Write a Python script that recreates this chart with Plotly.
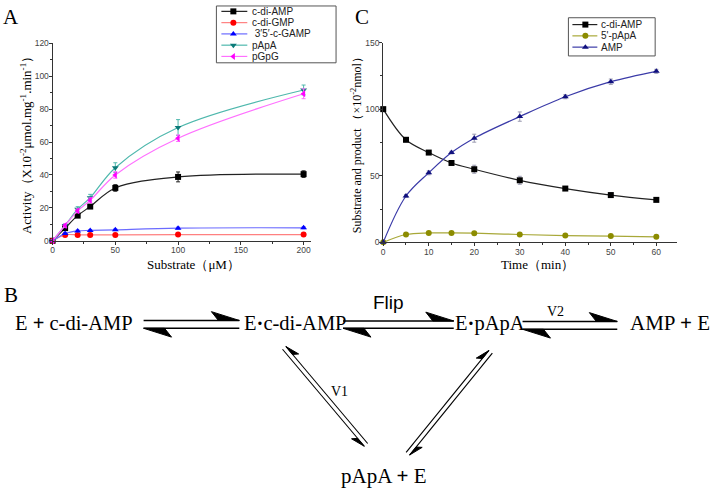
import math
import plotly.graph_objects as go

W, H = 713, 492

# ---------------- Panel A data ----------------
sub_x = [0, 10, 20, 30, 50, 100, 200]
act_names = ["c-di-AMP", "c-di-GMP", " 3\u20325\u2032-c-GAMP", "pApA", "pGpG"]
act_cdiamp = [0, 7.7, 15.3, 20.8, 32.1, 38.8, 40.5]
act_cdigmp = [0, 3.6, 3.6, 3.6, 3.6, 3.8, 3.8]
act_cgamp = [0, 4.4, 6.0, 6.3, 6.7, 7.7, 7.9]
act_papa = [0, 9.3, 19.2, 26.2, 44.4, 68.8, 91.6]
act_pgpg = [0, 9.3, 18.2, 24.6, 40.0, 62.3, 89.3]
err_cdiamp = [0, 1.0, 1.0, 1.2, 2.0, 3.0, 2.0]
err_cdigmp = [0, 0.4, 0.4, 0.4, 0.4, 0.4, 0.4]
err_cgamp = [0, 0.5, 0.5, 0.5, 0.5, 0.6, 0.6]
err_papa = [0, 1.0, 1.5, 2.0, 3.0, 4.8, 3.0]
err_pgpg = [0, 1.0, 1.2, 1.5, 2.0, 2.0, 3.0]

# ---------------- Panel C data ----------------
time_x = [0, 5, 10, 15, 20, 30, 40, 50, 60]
c_names = ["c-di-AMP", "5'-pApA", "AMP"]
c_cdiamp = [100, 77.0, 67.4, 59.6, 54.9, 46.6, 40.4, 35.5, 31.9]
c_papa = [0, 5.9, 7.1, 7.1, 6.9, 5.9, 5.1, 4.7, 4.2]
c_amp = [0, 34.8, 52.2, 67.4, 78.2, 94.4, 109.3, 120.6, 128.4]
err_c_cdiamp = [0, 1.5, 1.0, 1.0, 3.0, 3.0, 1.0, 1.5, 1.0]
err_c_papa = [0, 0.5, 0.5, 0.5, 0.5, 0.5, 0.5, 0.5, 0.5]
err_c_amp = [0, 1.0, 1.5, 1.0, 3.0, 3.5, 1.5, 2.0, 1.5]

# styles
A_styles = [
    dict(mc="#000000", lc="#222222", sym="square"),
    dict(mc="#ff0000", lc="#ff8080", sym="circle"),
    dict(mc="#0000ff", lc="#6b6bff", sym="triangle-up"),
    dict(mc="#0b7a78", lc="#4fb8ad", sym="triangle-down"),
    dict(mc="#ff00ff", lc="#ff70ff", sym="triangle-left"),
]
C_styles = [
    dict(mc="#000000", lc="#222222", sym="square"),
    dict(mc="#8c8c00", lc="#a8a838", sym="circle"),
    dict(mc="#10107e", lc="#3b3ba8", sym="triangle-up"),
]

fig = go.Figure()

A_series = [act_cdiamp, act_cdigmp, act_cgamp, act_papa, act_pgpg]
A_errs = [err_cdiamp, err_cdigmp, err_cgamp, err_papa, err_pgpg]
for name, ys, es, st in zip(act_names, A_series, A_errs, A_styles):
    fig.add_trace(go.Scatter(
        x=sub_x, y=ys, name=name, mode="lines+markers",
        line=dict(color=st["lc"], width=1.2, shape="spline", smoothing=1.0),
        marker=dict(color=st["mc"], symbol=st["sym"], size=6),
        error_y=dict(type="data", array=es, color=st["lc"], thickness=1, width=2),
        cliponaxis=False, showlegend=False, xaxis="x", yaxis="y"))

C_series = [c_cdiamp, c_papa, c_amp]
C_errs = [err_c_cdiamp, err_c_papa, err_c_amp]
for name, ys, es, st in zip(c_names, C_series, C_errs, C_styles):
    fig.add_trace(go.Scatter(
        x=time_x, y=ys, name=name, mode="lines+markers",
        line=dict(color=st["lc"], width=1.2, shape="spline", smoothing=1.0),
        marker=dict(color=st["mc"], symbol=st["sym"], size=6),
        error_y=dict(type="data", array=es, color="#9a9ab0", thickness=1, width=2),
        cliponaxis=False, showlegend=False, xaxis="x2", yaxis="y2"))

def px(x):
    return x / W

def py(y):
    return 1 - y / H

axis_common = dict(showline=True, linecolor="#333333", linewidth=1, ticks="outside",
                   ticklen=3, tickwidth=1, tickcolor="#333333", showgrid=False,
                   zeroline=False, ticklabelstandoff=-2,
                   tickfont=dict(family="Arial, Liberation Sans", size=8.5, color="#444444"))

fig.update_layout(
    width=W, height=H, margin=dict(l=0, r=0, t=0, b=0),
    paper_bgcolor="white", plot_bgcolor="rgba(0,0,0,0)",
    showlegend=False,
    xaxis=dict(domain=[px(50.7), px(310)], range=[0, 206], dtick=50, anchor="y",
               minor=dict(ticks="outside", ticklen=2, dtick=25, tickcolor="#333333"), **axis_common),
    yaxis=dict(domain=[py(240.7), py(39)], range=[0, 120], dtick=20, anchor="x",
               minor=dict(ticks="outside", ticklen=2, dtick=10, tickcolor="#333333"), **axis_common),
    xaxis2=dict(domain=[px(382.3), px(676.7)], range=[0, 64.5], dtick=10, anchor="y2",
                minor=dict(ticks="outside", ticklen=2, dtick=5, tickcolor="#333333"), **axis_common),
    yaxis2=dict(domain=[py(242.3), py(38.3)], range=[0, 150], dtick=50, anchor="x2",
                minor=dict(ticks="outside", ticklen=2, dtick=25, tickcolor="#333333"), **axis_common),
    xaxis3=dict(domain=[0, 1], range=[0, W], visible=False, anchor="y3", fixedrange=True),
    yaxis3=dict(domain=[0, 1], range=[H, 0], visible=False, anchor="x3", fixedrange=True),
)

shapes = []
annots = []

def text(x, y, s, size, family="Liberation Serif, Times New Roman, serif", xanchor="center",
         angle=0, color="#000000"):
    annots.append(dict(x=x, y=y, xref="x3", yref="y3", text=s, showarrow=False,
                       xanchor=xanchor, yanchor="middle", textangle=angle,
                       font=dict(family=family, size=size, color=color)))

# ---- Legends (drawn manually) ----
def legend(box, rows, names, styles, line_x, mark_x, text_x):
    x0, y0, x1, y1 = box
    shapes.append(dict(type="rect", xref="x3", yref="y3", x0=x0, y0=y0, x1=x1, y1=y1,
                       line=dict(color="#555555", width=1), fillcolor="rgba(0,0,0,0)", layer="below"))
    for ry, name, st in zip(rows, names, styles):
        fig.add_trace(go.Scatter(x=[line_x[0], line_x[1]], y=[ry, ry], mode="lines",
                                 line=dict(color=st["lc"], width=1.2), showlegend=False,
                                 hoverinfo="skip", xaxis="x3", yaxis="y3"))
        fig.add_trace(go.Scatter(x=[mark_x], y=[ry], mode="markers",
                                 marker=dict(color=st["mc"], symbol=st["sym"], size=6),
                                 showlegend=False, hoverinfo="skip", xaxis="x3", yaxis="y3"))
        text(text_x, ry, name, 10, family="Arial, Liberation Sans", xanchor="left", color="#222222")

legend((215, 1, 335, 59), [6.5, 18, 29.5, 41, 52.5], act_names, A_styles, (220, 246), 232, 249)
legend((568, 13, 655, 52), [20, 31.5, 43], c_names, C_styles, (572, 597), 585, 599)

# ---- Panel labels and axis titles ----
text(9, 12, "A", 21)
text(361, 12, "C", 21)
text(9, 296, "B", 21)
text(24, 140, "Activity\uff08X10<sup>-2</sup>\u03bcmol.mg<sup>-1</sup>.min<sup>-1</sup>\uff09", 13, angle=-90)
text(192, 265, "Substrate\uff08\u03bcM\uff09", 13)
text(355, 140, "Substrate and product \uff08\u00d710<sup>-2</sup>nmol\uff09", 12, angle=-90)
text(537, 265, "Time\uff08min\uff09", 13)

# ---- Scheme B ----
plus = "<b>+</b>"
dot = "<b>\u00b7</b>"
text(72, 325, "E " + plus + " c-di-AMP", 20.5)
text(294, 325, "E" + dot + "c-di-AMP", 20.5)
text(489, 325, "E" + dot + "pApA", 20.5)
text(670, 325, "AMP " + plus + " E", 21)
text(383, 481, "pApA " + plus + " E", 21)
text(388, 304, "Flip", 19, family="Arial, Liberation Sans")
text(555, 313, "V2", 14)
text(338, 395, "V1", 14)

def harpoon(tail, tip, side, hl, hw, lw=1.4):
    dx, dy = tip[0] - tail[0], tip[1] - tail[1]
    L = math.hypot(dx, dy)
    ux, uy = dx / L, dy / L
    shapes.append(dict(type="line", xref="x3", yref="y3", x0=tail[0], y0=tail[1],
                       x1=tip[0], y1=tip[1], line=dict(color="black", width=lw)))
    bx, by = tip[0] - hl * ux + hw * side[0], tip[1] - hl * uy + hw * side[1]
    ox, oy = tip[0] - 0.75 * hl * ux, tip[1] - 0.75 * hl * uy
    path = f"M {tip[0]} {tip[1]} L {bx} {by} L {ox} {oy} Z"
    shapes.append(dict(type="path", xref="x3", yref="y3", path=path,
                       fillcolor="black", line=dict(color="black", width=1)))

def equilibrium(xa, xb, ytop, ybot, hl=28, hw=9):
    harpoon((xa, ytop), (xb, ytop), (0, -1), hl, hw)
    harpoon((xb, ybot), (xa, ybot), (0, 1), hl, hw)

equilibrium(142, 238, 322, 330)
equilibrium(342, 453, 322.5, 330)
equilibrium(522, 617, 323, 331)

def diag(p_top, p_bot, n_sign, gap=2.2, hl=14, hw=5):
    dx, dy = p_bot[0] - p_top[0], p_bot[1] - p_top[1]
    L = math.hypot(dx, dy)
    ux, uy = dx / L, dy / L
    nx, ny = n_sign * uy, -n_sign * ux
    a = (p_top[0] + gap * nx, p_top[1] + gap * ny)
    b = (p_bot[0] + gap * nx, p_bot[1] + gap * ny)
    harpoon(b, a, (nx, ny), hl, hw, lw=1.1)
    c = (p_top[0] - gap * nx, p_top[1] - gap * ny)
    d = (p_bot[0] - gap * nx, p_bot[1] - gap * ny)
    harpoon(c, d, (-nx, -ny), hl, hw, lw=1.1)

diag((283, 350), (365, 449), 1)
diag((490, 354), (407, 458), -1)

fig.update_layout(shapes=shapes, annotations=annots)

fig.write_html("out.html", config={"displayModeBar": False},
               post_script="document.body.style.margin='0';")
